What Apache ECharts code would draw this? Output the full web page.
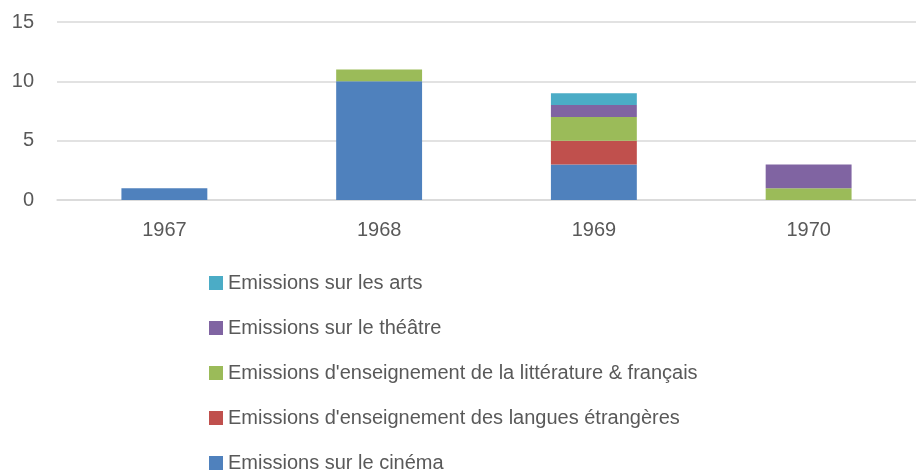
<!DOCTYPE html>
<html lang="fr">
<head>
  <meta charset="utf-8">
  <title>Emissions</title>
  <script src="https://cdn.jsdelivr.net/npm/echarts@6/dist/echarts.min.js"></script>
  <style>
    body { margin: 0; background: #fff; }
    #main { width: 916px; height: 475px; }
  </style>
</head>
<body>
  <div id="main"></div>
  <script>
    // années
    var years = ['1967', '1968', '1969', '1970'];

    // valeurs par série (empilées, de bas en haut)
    var cinema = [1, 10, 3, 0];
    var langues = [0, 0, 2, 0];
    var litterature = [0, 1, 2, 1];
    var theatre = [0, 0, 1, 2];
    var arts = [0, 0, 1, 0];

    var names = [
      'Emissions sur le cinéma',
      "Emissions d'enseignement des langues étrangères",
      "Emissions d'enseignement de la littérature & français",
      'Emissions sur le théâtre',
      'Emissions sur les arts'
    ];
    var colors = ['#4F81BD', '#C0504D', '#9BBB59', '#8064A2', '#4BACC6'];
    var values = [cinema, langues, litterature, theatre, arts];

    var font = 'Liberation Sans, Arial, sans-serif';

    var series = names.map(function (n, i) {
      return {
        name: n,
        type: 'bar',
        stack: 'total',
        barWidth: '40%',
        itemStyle: { color: colors[i] },
        data: values[i]
      };
    });

    var chart = echarts.init(document.getElementById('main'));
    chart.setOption({
      animation: false,
      textStyle: { fontFamily: font },
      grid: { left: 57, top: 22, width: 864, height: 178 },
      xAxis: {
        type: 'category',
        data: years,
        axisLine: { lineStyle: { color: '#d9d9d9', width: 1.5 } },
        axisTick: { show: false },
        axisLabel: { color: '#595959', fontSize: 20, margin: 20, fontFamily: font }
      },
      yAxis: {
        type: 'value',
        min: 0,
        max: 15,
        interval: 5,
        axisLine: { show: false },
        axisTick: { show: false },
        splitLine: { lineStyle: { color: '#d9d9d9', width: 1.5 } },
        axisLabel: { color: '#595959', fontSize: 20, margin: 23, fontFamily: font }
      },
      legend: {
        orient: 'vertical',
        left: 209,
        top: 271,
        height: 210,
        padding: 0,
        itemWidth: 14,
        itemHeight: 14,
        itemGap: 21,
        icon: 'rect',
        data: names.slice().reverse(),
        textStyle: { color: '#595959', fontSize: 20, lineHeight: 24, fontFamily: font }
      },
      series: series
    });
  </script>
</body>
</html>
